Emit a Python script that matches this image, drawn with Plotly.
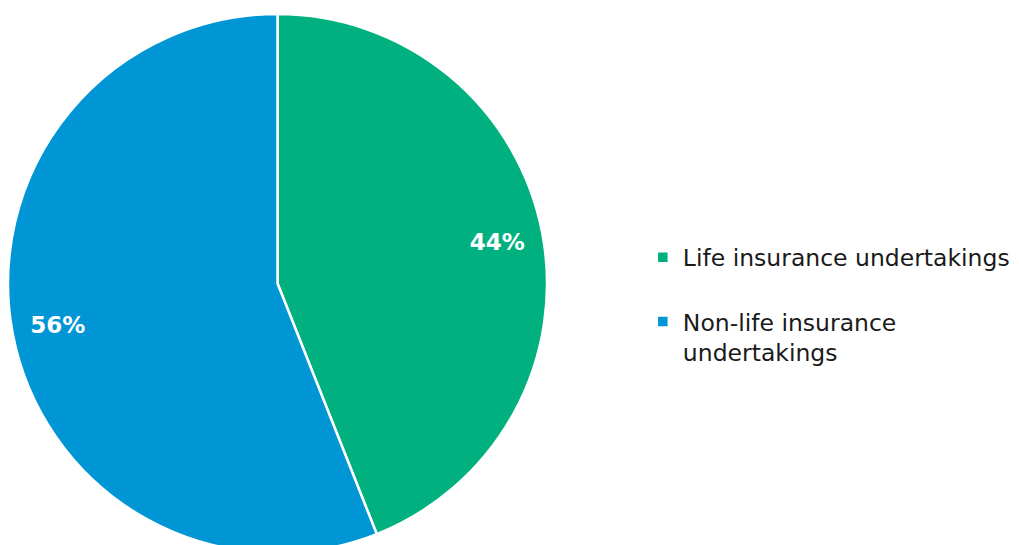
import plotly.graph_objects as go

categories = ["Life insurance undertakings<br> ", "Non-life insurance<br>undertakings"]
values = [44, 56]
colors = ["#00B17F", "#0096D6"]

FONT = "Verdana, DejaVu Sans, sans-serif"
dom = dict(x=[0, 0.529], y=[0, 1])

fig = go.Figure()
# main pie (slices + legend)
fig.add_trace(go.Pie(
    labels=categories,
    values=values,
    sort=False,
    direction="clockwise",
    rotation=0,
    marker=dict(colors=colors, line=dict(color="white", width=2.5)),
    textinfo="none",
    domain=dom,
    hoverinfo="label+percent",
))
# transparent ring overlay used only to place the percentage labels near the rim
fig.add_trace(go.Pie(
    labels=categories,
    values=values,
    sort=False,
    direction="clockwise",
    rotation=0,
    hole=0.66,
    marker=dict(colors=["rgba(0,0,0,0)"] * len(values), line=dict(width=0)),
    texttemplate="<b>%{percent:.0%}</b>",
    textposition="inside",
    insidetextorientation="horizontal",
    textfont=dict(family=FONT, size=23, color="white"),
    domain=dom,
    showlegend=False,
    hoverinfo="skip",
))

fig.update_layout(
    width=1019,
    height=545,
    margin=dict(l=0, r=0, t=6, b=0),
    paper_bgcolor="white",
    plot_bgcolor="white",
    showlegend=True,
    legend=dict(
        x=0.623, y=0.589, xanchor="left", yanchor="top",
        valign="top",
        font=dict(family=FONT, size=23.5, color="#1a1a1a"),
        bgcolor="rgba(0,0,0,0)",
    ),
)

fig.write_html("out.html")
